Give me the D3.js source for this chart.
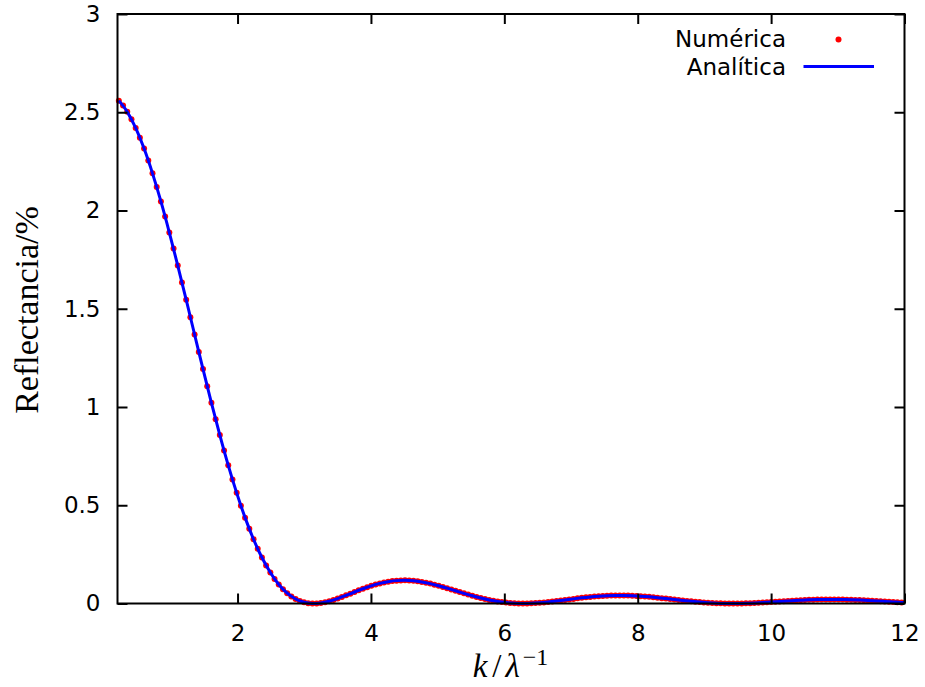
<!DOCTYPE html>
<html>
<head>
<meta charset="utf-8">
<script src="https://cdn.jsdelivr.net/npm/d3@7"></script>
<style>
  body { margin: 0; background: #fff; }
  .tick text { font-family: "DejaVu Sans", sans-serif; font-size: 23px; fill: #000; }
  .tick line { stroke: #000; stroke-width: 2; }
  .legend-text { font-family: "DejaVu Sans", sans-serif; font-size: 23px; fill: #000; }
  .axis-title { font-family: "Liberation Serif", "DejaVu Serif", serif; fill: #000; }
</style>
</head>
<body>
<div id="chart"></div>
<script>
// numeric solution, sampled on a regular k grid
const numericaK0 = 0.22;
const numericaPaso = 0.0631;
const numerica = [
  2.559, 2.534, 2.502, 2.464, 2.420, 2.370, 2.315, 2.254, 2.189, 2.120,
  2.046, 1.969, 1.888, 1.806, 1.720, 1.634, 1.546, 1.457, 1.369, 1.280,
  1.193, 1.106, 1.021, 0.938, 0.857, 0.779, 0.703, 0.631, 0.563, 0.498,
  0.437, 0.380, 0.327, 0.279, 0.234, 0.194, 0.158, 0.125, 0.0968, 0.0726,
  0.0523, 0.0358, 0.0227, 0.0129, 0.0060, 0.0018, 0.0001, 0.0005, 0.0028, 0.0066,
  0.0118, 0.0181, 0.0252, 0.0331, 0.0414, 0.0499, 0.0585, 0.0669, 0.0751, 0.0828,
  0.0900, 0.0965, 0.1023, 0.1072, 0.1112, 0.1142, 0.1164, 0.1175, 0.1177, 0.1170,
  0.1154, 0.1130, 0.1097, 0.1058, 0.1012, 0.0960, 0.0904, 0.0844, 0.0780, 0.0715,
  0.0649, 0.0583, 0.0517, 0.0453, 0.0391, 0.0332, 0.0277, 0.0225, 0.0179, 0.0137,
  0.0101, 0.0070, 0.0045, 0.0025, 0.0011, 0.0003, 0.0000, 0.0002, 0.0009, 0.0020,
  0.0035, 0.0053, 0.0075, 0.0099, 0.0124, 0.0151, 0.0179, 0.0207, 0.0235, 0.0262,
  0.0288, 0.0312, 0.0335, 0.0354, 0.0372, 0.0386, 0.0397, 0.0405, 0.0410, 0.0411,
  0.0409, 0.0404, 0.0396, 0.0385, 0.0372, 0.0356, 0.0338, 0.0318, 0.0296, 0.0273,
  0.0250, 0.0226, 0.0201, 0.0177, 0.0154, 0.0131, 0.0110, 0.0090, 0.0071, 0.0055,
  0.0040, 0.0028, 0.0017, 0.0010, 0.0004, 0.0001, 0.0000, 0.0001, 0.0005, 0.0010,
  0.0018, 0.0027, 0.0037, 0.0048, 0.0061, 0.0074, 0.0088, 0.0101, 0.0115, 0.0129,
  0.0142, 0.0154, 0.0166, 0.0176, 0.0185, 0.0193, 0.0199, 0.0204, 0.0207, 0.0208,
  0.0208, 0.0206, 0.0202, 0.0197, 0.0191, 0.0183, 0.0174, 0.0164, 0.0153, 0.0142,
  0.0130, 0.0118, 0.0105, 0.0093, 0.0080, 0.0069, 0.0057
];

// analytic curve, coarser grid
const analiticaK0 = 0.22;
const analiticaPaso = 0.1262;
const analitica = [
  2.559, 2.502, 2.420, 2.315, 2.189, 2.046, 1.888, 1.720, 1.546, 1.369,
  1.193, 1.021, 0.857, 0.703, 0.563, 0.437, 0.327, 0.234, 0.158, 0.0968,
  0.0523, 0.0227, 0.0060, 0.0001, 0.0028, 0.0118, 0.0252, 0.0414, 0.0585, 0.0751,
  0.0900, 0.1023, 0.1112, 0.1164, 0.1177, 0.1154, 0.1097, 0.1012, 0.0904, 0.0780,
  0.0649, 0.0517, 0.0391, 0.0277, 0.0179, 0.0101, 0.0045, 0.0011, 0.0000, 0.0009,
  0.0035, 0.0075, 0.0124, 0.0179, 0.0235, 0.0288, 0.0335, 0.0372, 0.0397, 0.0410,
  0.0409, 0.0396, 0.0372, 0.0338, 0.0296, 0.0250, 0.0201, 0.0154, 0.0110, 0.0071,
  0.0040, 0.0017, 0.0004, 0.0000, 0.0005, 0.0018, 0.0037, 0.0061, 0.0088, 0.0115,
  0.0142, 0.0166, 0.0185, 0.0199, 0.0207, 0.0208, 0.0202, 0.0191, 0.0174, 0.0153,
  0.0130, 0.0105, 0.0080, 0.0057, 0.0037
];

const xTicks = [2, 4, 6, 8, 10, 12];
const yTicks = [0, 0.5, 1, 1.5, 2, 2.5, 3];
const leyenda = ["Numérica", "Analítica"];

const margin = { top: 14, right: 20.5, bottom: 83.5, left: 117.5 };
const width = 925 - margin.left - margin.right;
const height = 687 - margin.top - margin.bottom;

const svg = d3.select("#chart")
    .append("svg")
    .attr("width", 925)
    .attr("height", 687)
    .append("g")
    .attr("transform", `translate(${margin.left},${margin.top})`);

const x = d3.scaleLinear().domain([0.2, 12]).range([0, width]);
const y = d3.scaleLinear().domain([0, 3]).range([height, 0]);

svg.append("clipPath")
    .attr("id", "clip")
    .append("rect")
    .attr("x", 0)
    .attr("y", -10)
    .attr("width", width)
    .attr("height", height + 20);

// numeric points
svg.append("g")
    .selectAll("circle")
    .data(numerica)
    .enter()
    .append("circle")
    .attr("cx", (d, i) => x(numericaK0 + i * numericaPaso))
    .attr("cy", d => y(d))
    .attr("r", 3)
    .attr("fill", "#ff0000");

// analytic line
const line = d3.line()
    .x((d, i) => x(analiticaK0 + i * analiticaPaso))
    .y(d => y(d))
    .curve(d3.curveMonotoneX);

svg.append("path")
    .datum(analitica)
    .attr("clip-path", "url(#clip)")
    .attr("fill", "none")
    .attr("stroke", "#0000ff")
    .attr("stroke-width", 3)
    .attr("d", line);

// axes with inward ticks, mirrored on top/right
svg.append("g")
    .attr("transform", `translate(0,${height})`)
    .call(d3.axisBottom(x).tickValues(xTicks).tickSizeInner(-10).tickSizeOuter(0).tickPadding(21))
    .call(g => g.select(".domain").remove());

svg.append("g")
    .call(d3.axisLeft(y).tickValues(yTicks).tickSizeInner(-10).tickSizeOuter(0).tickPadding(17)
        .tickFormat(d3.format("")))
    .call(g => g.select(".domain").remove());

svg.append("g")
    .call(d3.axisTop(x).tickValues(xTicks).tickSizeInner(-10).tickSizeOuter(0).tickFormat(""))
    .call(g => g.select(".domain").remove());

svg.append("g")
    .attr("transform", `translate(${width},0)`)
    .call(d3.axisRight(y).tickValues(yTicks).tickSizeInner(-10).tickSizeOuter(0).tickFormat(""))
    .call(g => g.select(".domain").remove());

svg.append("rect")
    .attr("x", 0)
    .attr("y", 0)
    .attr("width", width)
    .attr("height", height)
    .attr("fill", "none")
    .attr("stroke", "#000")
    .attr("stroke-width", 2);

// axis titles
svg.append("text")
    .attr("class", "axis-title")
    .attr("transform", `translate(${38 - margin.left},${310 - margin.top}) rotate(-90)`)
    .attr("text-anchor", "middle")
    .style("font-size", "34px")
    .text("Reflectancia/%");

const xt = svg.append("text")
    .attr("class", "axis-title")
    .attr("x", 510.5 - margin.left)
    .attr("y", 677 - margin.top)
    .attr("text-anchor", "middle")
    .style("font-size", "33px");
xt.append("tspan").style("font-style", "italic").text("k");
xt.append("tspan").attr("dx", 5).text("/");
xt.append("tspan").attr("dx", 4).style("font-style", "italic").text("λ");
xt.append("tspan").attr("dx", 3).attr("dy", -12).style("font-size", "24px").text("−1");

// legend
const legend = svg.append("g").attr("transform", `translate(${786 - margin.left},0)`);

legend.selectAll("text")
    .data(leyenda)
    .enter()
    .append("text")
    .attr("class", "legend-text")
    .attr("x", 0)
    .attr("y", (d, i) => 47.3 - margin.top + i * 27.7)
    .attr("text-anchor", "end")
    .text(d => d);

legend.append("circle")
    .attr("cx", 52.5)
    .attr("cy", 39.4 - margin.top)
    .attr("r", 3)
    .attr("fill", "#ff0000");

legend.append("line")
    .attr("x1", 17.5)
    .attr("x2", 88)
    .attr("y1", 66.5 - margin.top)
    .attr("y2", 66.5 - margin.top)
    .attr("stroke", "#0000ff")
    .attr("stroke-width", 3);
</script>
</body>
</html>
